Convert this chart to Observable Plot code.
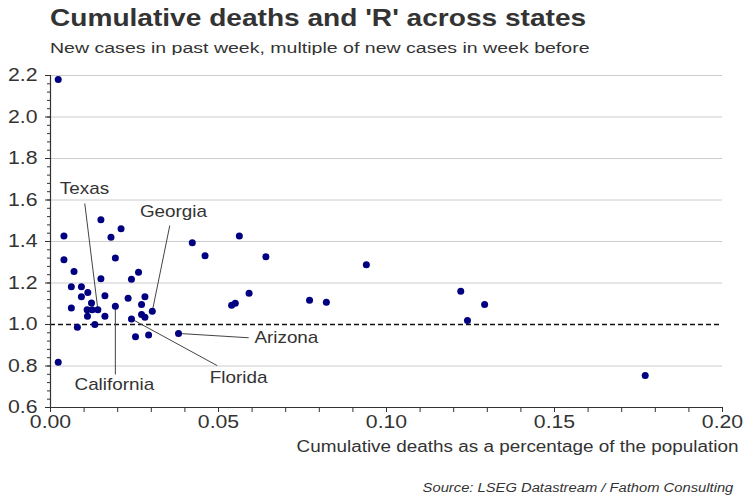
<!DOCTYPE html>
<html>
<head>
<meta charset="utf-8">
<script src="https://cdn.jsdelivr.net/npm/d3@7"></script>
<script src="https://cdn.jsdelivr.net/npm/@observablehq/plot@0.6"></script>
<style>
  body { margin: 0; background: #fff; font-family: "Liberation Sans", Arial, sans-serif; }
  #wrap { position: relative; width: 750px; height: 500px; overflow: hidden; background: #fff; }
  .t { position: absolute; white-space: nowrap; color: #333; line-height: 1; }
  #title { left: 50px; top: 6px; font-size: 24px; font-weight: bold; transform: scaleX(1.17); transform-origin: left top; }
  #subtitle { left: 50px; top: 40px; font-size: 15.5px; transform: scaleX(1.26); transform-origin: left top; }
  #xlabel { right: 12px; top: 439px; font-size: 16px; transform: scaleX(1.18); transform-origin: right top; }
  #source { right: 17px; top: 482px; font-size: 12.5px; font-style: italic; transform: scaleX(1.18); transform-origin: right top; }
  #chart { position: absolute; left: 0; top: 55px; }
</style>
</head>
<body>
<div id="wrap">
  <div class="t" id="title">Cumulative deaths and 'R' across states</div>
  <div class="t" id="subtitle">New cases in past week, multiple of new cases in week before</div>
  <div id="chart"></div>
  <div class="t" id="xlabel">Cumulative deaths as a percentage of the population</div>
  <div class="t" id="source">Source: LSEG Datastream / Fathom Consulting</div>
</div>
<script>
// Cumulative deaths as % of population (x) and 'R' ratio (y), one per state
const deathsPct = [
  0.0023, 0.0023, 0.0040, 0.0040, 0.0070, 0.0062, 0.0092, 0.0092, 0.0111, 0.0062,
  0.0122, 0.0109, 0.0124, 0.0141, 0.0110, 0.0162, 0.0080, 0.0132, 0.0150, 0.0150,
  0.0162, 0.0180, 0.0210, 0.0193, 0.0193, 0.0231, 0.0241, 0.0262, 0.0281, 0.0271,
  0.0241, 0.0271, 0.0281, 0.0303, 0.0253, 0.0292, 0.0381, 0.0422, 0.0460, 0.0539,
  0.0550, 0.0562, 0.0641, 0.0940, 0.0591, 0.0771, 0.0821, 0.1221, 0.1292, 0.1241,
  0.1770
];
const rValues = [
  2.181, 0.818, 1.426, 1.312, 1.255, 1.182, 1.182, 1.134, 1.154, 1.080,
  1.104, 1.071, 1.071, 1.071, 1.040, 1.040, 0.987, 1.000, 1.505, 1.220,
  1.138, 1.421, 1.461, 1.321, 1.088, 1.127, 1.218, 1.252, 1.134, 1.096,
  1.027, 1.048, 1.035, 1.064, 0.941, 0.950, 0.957, 1.394, 1.331, 1.093,
  1.103, 1.426, 1.326, 1.288, 1.151, 1.117, 1.107, 1.160, 1.096, 1.019,
  0.754
];

// Labelled states: index into the arrays above, label anchor and leader-line end (data units)
const labelNames = ["Texas", "Georgia", "California", "Florida", "Arizona"];
const labelIndex = [13, 33, 24, 30, 36];
const labelTextX = [0.0101, 0.0366, 0.0190, 0.0560, 0.0702];
const labelTextY = [1.655, 1.545, 0.711, 0.745, 0.937];
const labelLineX = [0.0102, 0.0355, 0.0193, 0.0496, 0.0590];
const labelLineY = [1.583, 1.477, 0.759, 0.802, 0.936];

// Axis ticks
const xTicks = [0, 0.05, 0.10, 0.15, 0.20];
const yTicks = [0.6, 0.8, 1.0, 1.2, 1.4, 1.6, 1.8, 2.0, 2.2];
const yGrid = [0.8, 1.2, 1.4, 1.6, 1.8, 2.0, 2.2];
const xMinor = d3.range(0, 21).map(i => i / 100);
const yMinor = d3.range(0, 41).map(i => +(0.6 + i * 0.04).toFixed(2));

const points = deathsPct.map((d, i) => ({deaths: d, r: rValues[i]}));
const annotations = labelNames.map((name, k) => ({
  name,
  px: deathsPct[labelIndex[k]], py: rValues[labelIndex[k]],
  lx: labelLineX[k], ly: labelLineY[k],
  tx: labelTextX[k], ty: labelTextY[k]
}));

const chart = Plot.plot({
  width: 750,
  height: 410,
  marginLeft: 50,
  marginRight: 28,
  marginTop: 20,
  marginBottom: 58,
  style: {fontFamily: "'Liberation Sans', Arial, sans-serif", background: "white", overflow: "visible", color: "#333"},
  x: {domain: [0, 0.2], label: null},
  y: {domain: [0.6, 2.2], label: null},
  marks: [
    Plot.gridY(yGrid, {stroke: "#cccccc", strokeOpacity: 1, strokeWidth: 1}),
    Plot.ruleY([1], {stroke: "#111", strokeWidth: 1.4, strokeDasharray: "5,3"}),
    Plot.axisY(yMinor, {tickSize: 3, tickFormat: () => "", label: null, stroke: "#333"}),
    Plot.axisY(yTicks, {tickSize: 5, tickPadding: 8, tickFormat: d3.format(".1f"), fontSize: 18, fill: "#333", stroke: "#333", label: null}),
    Plot.axisX(xMinor, {tickSize: 5, tickFormat: () => "", label: null, stroke: "#333"}),
    Plot.axisX(xTicks, {tickSize: 5, tickPadding: 3, tickFormat: d3.format(".2f"), fontSize: 18, fill: "#333", stroke: "#333", label: null}),
    Plot.ruleX([0], {stroke: "#333", strokeWidth: 1.2}),
    Plot.ruleY([0.6], {stroke: "#333", strokeWidth: 1.2}),
    Plot.link(annotations, {x1: "px", y1: "py", x2: "lx", y2: "ly", stroke: "#444", strokeWidth: 1}),
    Plot.dot(points, {x: "deaths", y: "r", r: 3.5, fill: "#000080", stroke: "none"}),
    Plot.text(annotations, {x: "tx", y: "ty", text: "name", fontSize: 16, fill: "#333", stroke: "white", strokeWidth: 8, paintOrder: "stroke"})
  ]
});

// Reference text is horizontally wide: stretch each SVG text around its anchor
const S = 1.18;
chart.querySelectorAll("text").forEach(t => {
  const tr = t.getAttribute("transform");
  if (tr) {
    t.setAttribute("transform", tr + ` scale(${S},1)`);
  } else {
    const x = +t.getAttribute("x") || 0, y = +t.getAttribute("y") || 0;
    t.removeAttribute("x"); t.removeAttribute("y");
    t.setAttribute("transform", `translate(${x},${y}) scale(${S},1)`);
  }
});

document.getElementById("chart").appendChild(chart);
</script>
</body>
</html>
